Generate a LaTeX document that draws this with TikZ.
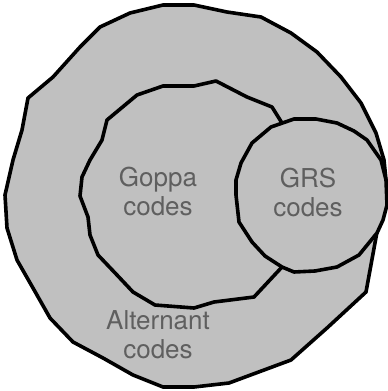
\documentclass[tikz,border=0pt]{standalone}
\usepackage{fontspec}
\setmainfont{TeX Gyre Heros}
\definecolor{setfill}{RGB}{192,192,192}
\definecolor{labelgray}{RGB}{95,95,95}
\tikzset{
  region/.style={draw=black, fill=setfill, line width=3.6pt, line join=round},
  setlabel/.style={align=center, text=labelgray, inner sep=0pt,
    font=\fontsize{26}{29}\selectfont}
}
\begin{document}
\begin{tikzpicture}[x=1pt, y=-1pt]
\useasboundingbox (0,0) rectangle (388,391);
% Alternant codes: outer region
\draw[region] (163,5) -- (194,5) -- (227,12) -- (261,17) -- (291,33) -- (317,52)
  -- (341,77) -- (361,103) -- (376,133) -- (384,160) -- (386,180) -- (387,195)
  -- (377,232) -- (366,292) -- (327,328) -- (291,360) -- (229,383) -- (194,387)
  -- (163,387) -- (133,375) -- (103,358) -- (73,342) -- (50,318) -- (33,288)
  -- (17,260) -- (7,228) -- (5,195) -- (13,160) -- (22,130) -- (28,98)
  -- (53,77) -- (80,47) -- (100,27) -- (130,13) -- cycle;
% Goppa codes: middle region
\draw[region] (163,86) -- (194,86) -- (216,81) -- (247,97) -- (272,107) -- (282,123)
  -- (300,160) -- (300,230) -- (282,267) -- (254,297) -- (214,302) -- (194,308)
  -- (155,305) -- (133,292) -- (117,275) -- (98,255) -- (90,235) -- (88,217)
  -- (80,196) -- (82,177) -- (90,160) -- (102,140) -- (107,120) -- (137,95) -- cycle;
% GRS codes: small region on the right
\draw[region] (294,119) -- (316,119) -- (337,123) -- (354,131) -- (367,140)
  -- (381,160) -- (386,180) -- (387,205) -- (383,220) -- (377,233) -- (359,255)
  -- (337,267) -- (315,271) -- (294,272) -- (282,267) -- (265,256) -- (252,242)
  -- (239,222) -- (236,195) -- (236,180) -- (241,163) -- (252,143) -- (271,127)
  -- cycle;
% Labels
\node[setlabel] (goppa) at (158,191.5) {Goppa\\codes};
\node[setlabel] (grs) at (308,192) {GRS\\codes};
\node[setlabel] (alt) at (158,334.5) {Alternant\\codes};
\end{tikzpicture}
\end{document}
